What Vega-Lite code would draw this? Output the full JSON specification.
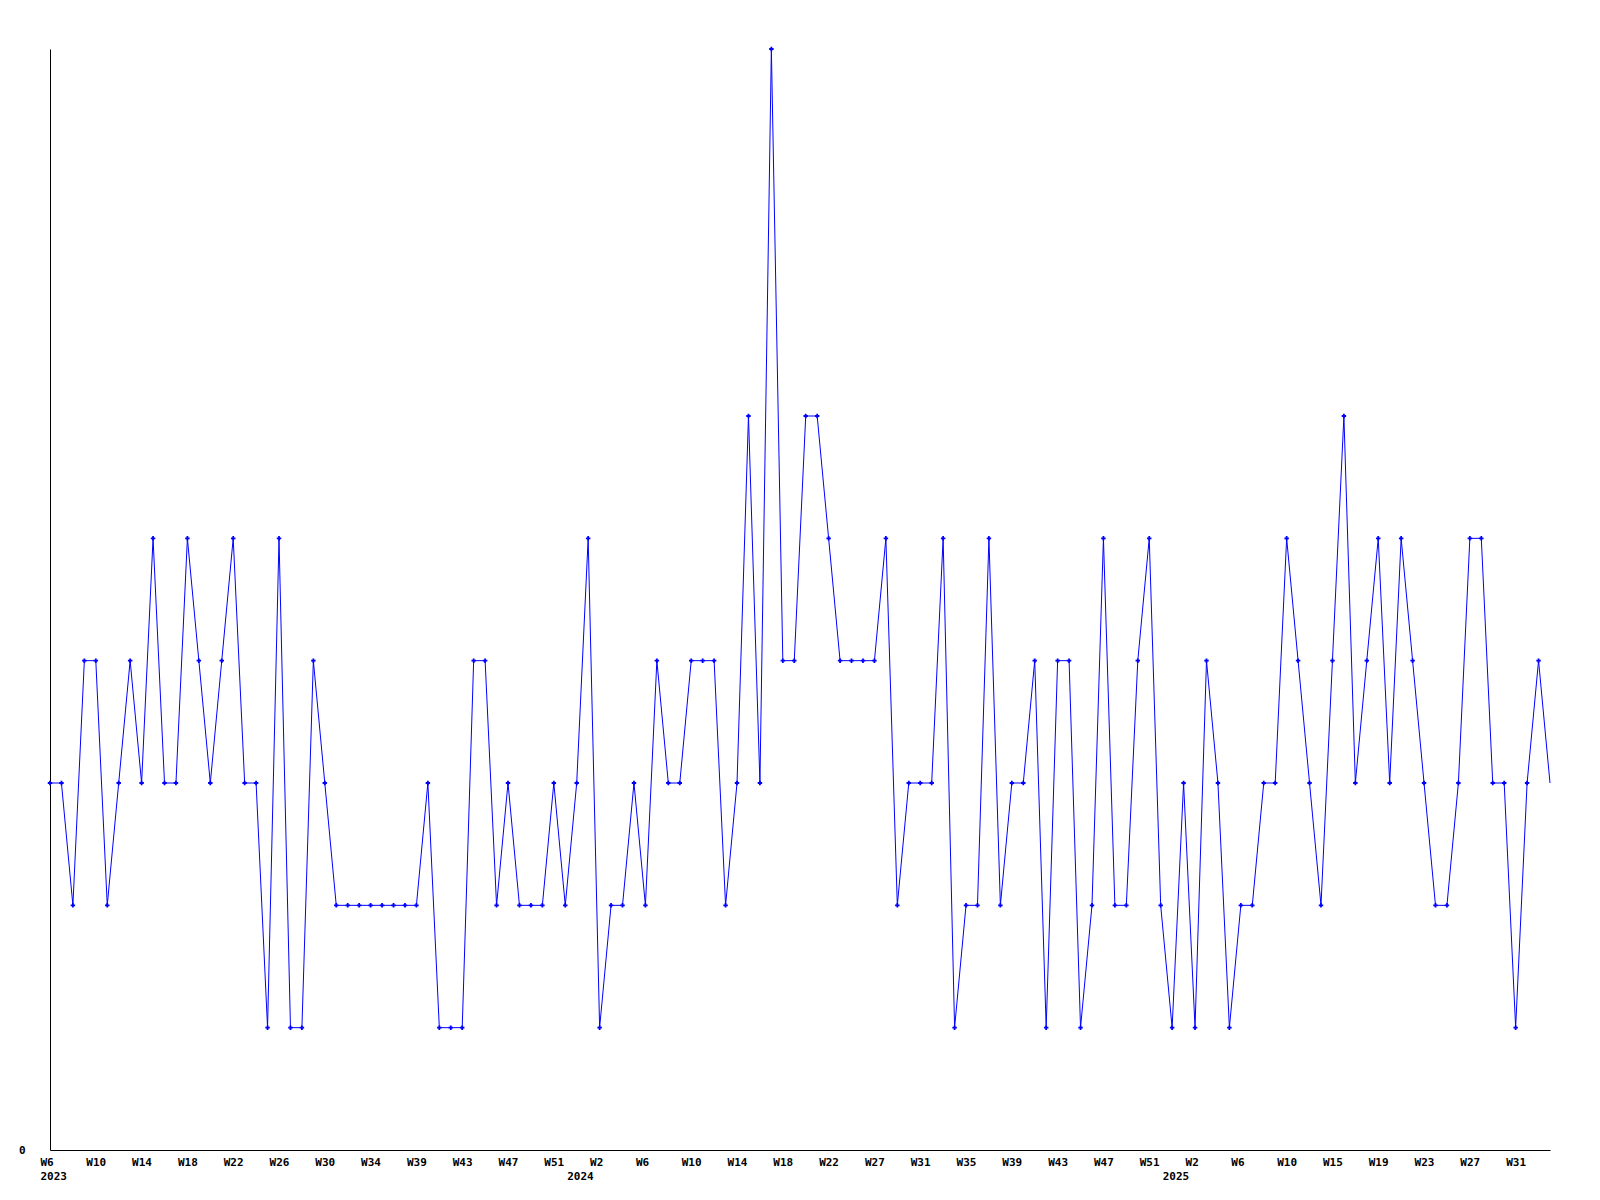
{
  "$schema": "https://vega.github.io/schema/vega-lite/v6.json",
  "width": 1500,
  "height": 1101,
  "autosize": {"type": "none"},
  "padding": {"left": 50, "top": 49, "right": 50, "bottom": 50},
  "background": "white",
  "config": {"view": {"stroke": null}, "axis": {"grid": false}},
  "data": {"values": [
    {"week": "2023-02-12", "value": 3}, {"week": "2023-02-19", "value": 3}, {"week": "2023-02-26", "value": 2}, {"week": "2023-03-05", "value": 4}, {"week": "2023-03-12", "value": 4},
    {"week": "2023-03-19", "value": 2}, {"week": "2023-03-26", "value": 3}, {"week": "2023-04-02", "value": 4}, {"week": "2023-04-09", "value": 3}, {"week": "2023-04-16", "value": 5},
    {"week": "2023-04-23", "value": 3}, {"week": "2023-04-30", "value": 3}, {"week": "2023-05-07", "value": 5}, {"week": "2023-05-14", "value": 4}, {"week": "2023-05-21", "value": 3},
    {"week": "2023-05-28", "value": 4}, {"week": "2023-06-04", "value": 5}, {"week": "2023-06-11", "value": 3}, {"week": "2023-06-18", "value": 3}, {"week": "2023-06-25", "value": 1},
    {"week": "2023-07-02", "value": 5}, {"week": "2023-07-09", "value": 1}, {"week": "2023-07-16", "value": 1}, {"week": "2023-07-23", "value": 4}, {"week": "2023-07-30", "value": 3},
    {"week": "2023-08-06", "value": 2}, {"week": "2023-08-13", "value": 2}, {"week": "2023-08-20", "value": 2}, {"week": "2023-08-27", "value": 2}, {"week": "2023-09-03", "value": 2},
    {"week": "2023-09-10", "value": 2}, {"week": "2023-09-17", "value": 2}, {"week": "2023-09-24", "value": 2}, {"week": "2023-10-01", "value": 3}, {"week": "2023-10-08", "value": 1},
    {"week": "2023-10-15", "value": 1}, {"week": "2023-10-22", "value": 1}, {"week": "2023-10-29", "value": 4}, {"week": "2023-11-05", "value": 4}, {"week": "2023-11-12", "value": 2},
    {"week": "2023-11-19", "value": 3}, {"week": "2023-11-26", "value": 2}, {"week": "2023-12-03", "value": 2}, {"week": "2023-12-10", "value": 2}, {"week": "2023-12-17", "value": 3},
    {"week": "2023-12-24", "value": 2}, {"week": "2023-12-31", "value": 3},
    {"week": "2024-01-07", "value": 5}, {"week": "2024-01-14", "value": 1}, {"week": "2024-01-21", "value": 2}, {"week": "2024-01-28", "value": 2}, {"week": "2024-02-04", "value": 3},
    {"week": "2024-02-11", "value": 2}, {"week": "2024-02-18", "value": 4}, {"week": "2024-02-25", "value": 3}, {"week": "2024-03-03", "value": 3}, {"week": "2024-03-10", "value": 4},
    {"week": "2024-03-17", "value": 4}, {"week": "2024-03-24", "value": 4}, {"week": "2024-03-31", "value": 2}, {"week": "2024-04-07", "value": 3}, {"week": "2024-04-14", "value": 6},
    {"week": "2024-04-21", "value": 3}, {"week": "2024-04-28", "value": 9}, {"week": "2024-05-05", "value": 4}, {"week": "2024-05-12", "value": 4}, {"week": "2024-05-19", "value": 6},
    {"week": "2024-05-26", "value": 6}, {"week": "2024-06-02", "value": 5}, {"week": "2024-06-09", "value": 4}, {"week": "2024-06-16", "value": 4}, {"week": "2024-06-23", "value": 4},
    {"week": "2024-06-30", "value": 4}, {"week": "2024-07-07", "value": 5}, {"week": "2024-07-14", "value": 2}, {"week": "2024-07-21", "value": 3}, {"week": "2024-07-28", "value": 3},
    {"week": "2024-08-04", "value": 3}, {"week": "2024-08-11", "value": 5}, {"week": "2024-08-18", "value": 1}, {"week": "2024-08-25", "value": 2}, {"week": "2024-09-01", "value": 2},
    {"week": "2024-09-08", "value": 5}, {"week": "2024-09-15", "value": 2}, {"week": "2024-09-22", "value": 3}, {"week": "2024-09-29", "value": 3}, {"week": "2024-10-06", "value": 4},
    {"week": "2024-10-13", "value": 1}, {"week": "2024-10-20", "value": 4}, {"week": "2024-10-27", "value": 4}, {"week": "2024-11-03", "value": 1}, {"week": "2024-11-10", "value": 2},
    {"week": "2024-11-17", "value": 5}, {"week": "2024-11-24", "value": 2}, {"week": "2024-12-01", "value": 2}, {"week": "2024-12-08", "value": 4}, {"week": "2024-12-15", "value": 5},
    {"week": "2024-12-22", "value": 2}, {"week": "2024-12-29", "value": 1},
    {"week": "2025-01-05", "value": 3}, {"week": "2025-01-12", "value": 1}, {"week": "2025-01-19", "value": 4}, {"week": "2025-01-26", "value": 3}, {"week": "2025-02-02", "value": 1},
    {"week": "2025-02-09", "value": 2}, {"week": "2025-02-16", "value": 2}, {"week": "2025-02-23", "value": 3}, {"week": "2025-03-02", "value": 3}, {"week": "2025-03-09", "value": 5},
    {"week": "2025-03-16", "value": 4}, {"week": "2025-03-23", "value": 3}, {"week": "2025-03-30", "value": 2}, {"week": "2025-04-06", "value": 4}, {"week": "2025-04-13", "value": 6},
    {"week": "2025-04-20", "value": 3}, {"week": "2025-04-27", "value": 4}, {"week": "2025-05-04", "value": 5}, {"week": "2025-05-11", "value": 3}, {"week": "2025-05-18", "value": 5},
    {"week": "2025-05-25", "value": 4}, {"week": "2025-06-01", "value": 3}, {"week": "2025-06-08", "value": 2}, {"week": "2025-06-15", "value": 2}, {"week": "2025-06-22", "value": 3},
    {"week": "2025-06-29", "value": 5}, {"week": "2025-07-06", "value": 5}, {"week": "2025-07-13", "value": 3}, {"week": "2025-07-20", "value": 3}, {"week": "2025-07-27", "value": 1},
    {"week": "2025-08-03", "value": 3}, {"week": "2025-08-10", "value": 4}, {"week": "2025-08-17", "value": 3}
  ]},
  "encoding": {
    "x": {
      "field": "week",
      "type": "temporal",
      "title": null,
      "scale": {"type": "utc", "nice": false},
      "axis": {
        "values": [
          {"year": 2023, "month": 2, "date": 12, "utc": true}, {"year": 2023, "month": 3, "date": 12, "utc": true}, {"year": 2023, "month": 4, "date": 9, "utc": true},
          {"year": 2023, "month": 5, "date": 7, "utc": true}, {"year": 2023, "month": 6, "date": 4, "utc": true}, {"year": 2023, "month": 7, "date": 2, "utc": true},
          {"year": 2023, "month": 7, "date": 30, "utc": true}, {"year": 2023, "month": 8, "date": 27, "utc": true}, {"year": 2023, "month": 9, "date": 24, "utc": true},
          {"year": 2023, "month": 10, "date": 22, "utc": true}, {"year": 2023, "month": 11, "date": 19, "utc": true}, {"year": 2023, "month": 12, "date": 17, "utc": true},
          {"year": 2024, "month": 1, "date": 14, "utc": true}, {"year": 2024, "month": 2, "date": 11, "utc": true}, {"year": 2024, "month": 3, "date": 10, "utc": true},
          {"year": 2024, "month": 4, "date": 7, "utc": true}, {"year": 2024, "month": 5, "date": 5, "utc": true}, {"year": 2024, "month": 6, "date": 2, "utc": true},
          {"year": 2024, "month": 6, "date": 30, "utc": true}, {"year": 2024, "month": 7, "date": 28, "utc": true}, {"year": 2024, "month": 8, "date": 25, "utc": true},
          {"year": 2024, "month": 9, "date": 22, "utc": true}, {"year": 2024, "month": 10, "date": 20, "utc": true}, {"year": 2024, "month": 11, "date": 17, "utc": true},
          {"year": 2024, "month": 12, "date": 15, "utc": true}, {"year": 2025, "month": 1, "date": 12, "utc": true}, {"year": 2025, "month": 2, "date": 9, "utc": true},
          {"year": 2025, "month": 3, "date": 9, "utc": true}, {"year": 2025, "month": 4, "date": 6, "utc": true}, {"year": 2025, "month": 5, "date": 4, "utc": true},
          {"year": 2025, "month": 6, "date": 1, "utc": true}, {"year": 2025, "month": 6, "date": 29, "utc": true}, {"year": 2025, "month": 7, "date": 27, "utc": true},
          {"year": 2023, "month": 12, "date": 31, "utc": true}, {"year": 2024, "month": 12, "date": 29, "utc": true}
        ],
        "labelExpr": "[['W6','2023'],'W10','W14','W18','W22','W26','W30','W34','W39','W43','W47','W51','W2','W6','W10','W14','W18','W22','W27','W31','W35','W39','W43','W47','W51','W2','W6','W10','W15','W19','W23','W27','W31',[' ','2024'],[' ','2025']][indexof(['2023-02-12','2023-03-12','2023-04-09','2023-05-07','2023-06-04','2023-07-02','2023-07-30','2023-08-27','2023-09-24','2023-10-22','2023-11-19','2023-12-17','2024-01-14','2024-02-11','2024-03-10','2024-04-07','2024-05-05','2024-06-02','2024-06-30','2024-07-28','2024-08-25','2024-09-22','2024-10-20','2024-11-17','2024-12-15','2025-01-12','2025-02-09','2025-03-09','2025-04-06','2025-05-04','2025-06-01','2025-06-29','2025-07-27','2023-12-31','2024-12-29'], utcFormat(datum.value, '%Y-%m-%d'))]",
        "ticks": false,
        "grid": false,
        "domainColor": "#000000",
        "domainWidth": 1,
        "labelFont": "DejaVu Sans Mono",
        "labelFontWeight": "bold",
        "labelFontSize": 11,
        "labelColor": "#000000",
        "labelAlign": "left",
        "labelBaseline": "top",
        "labelOffset": -10,
        "labelPadding": 6,
        "labelLineHeight": 14,
        "labelOverlap": false,
        "labelBound": false,
        "labelFlush": false
      }
    },
    "y": {
      "field": "value",
      "type": "quantitative",
      "title": null,
      "scale": {"domain": [0, 9], "nice": false},
      "axis": {
        "values": [0],
        "ticks": false,
        "grid": false,
        "domainColor": "#000000",
        "domainWidth": 1,
        "labelFont": "DejaVu Sans Mono",
        "labelFontWeight": "bold",
        "labelFontSize": 11,
        "labelColor": "#000000",
        "labelPadding": 25,
        "labelBaseline": "middle"
      }
    }
  },
  "layer": [
    {"mark": {"type": "line", "color": "#0000ff", "strokeWidth": 1}},
    {
      "transform": [{"filter": {"field": "week", "lt": {"year": 2025, "month": 8, "date": 17, "utc": true}}}],
      "mark": {"type": "point", "shape": "cross", "filled": true, "size": 20, "color": "#0000ff", "opacity": 1}
    }
  ]
}
